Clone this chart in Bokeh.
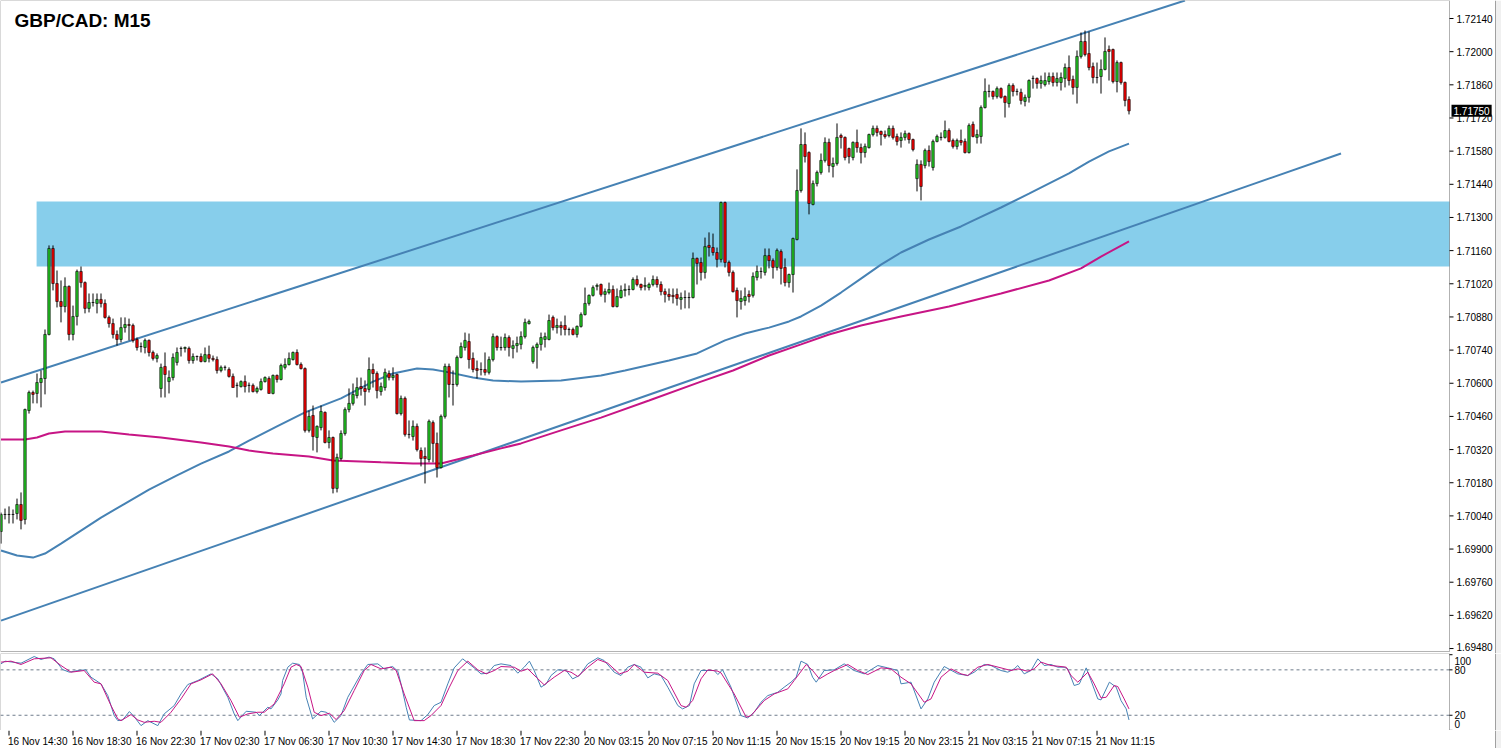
from bokeh.plotting import figure
from bokeh.layouts import column
from bokeh.models import (Range1d, Label, ColumnDataSource, BoxAnnotation, Span)
from bokeh.embed import file_html
from bokeh.resources import INLINE
from bokeh.core.properties import value

# ---------------- data (GBP/CAD M15, candle index 0 = 16 Nov 14:00) ----------------
open_ = [
1.69974,1.70046,1.70046,1.70046,1.70050,1.70088,1.70025,1.70485,1.70561,1.70557,
1.70603,1.70620,1.70806,1.71169,1.71021,1.70945,1.70924,1.71009,1.70806,1.70882,
1.71072,1.71025,1.70916,1.70941,1.70937,1.70954,1.70937,1.70878,1.70852,1.70806,
1.70785,1.70835,1.70848,1.70844,1.70785,1.70755,1.70751,1.70781,1.70730,1.70705,
1.70578,1.70671,1.70607,1.70624,1.70688,1.70747,1.70747,1.70747,1.70696,1.70713,
1.70713,1.70692,1.70721,1.70705,1.70700,1.70654,1.70667,1.70658,1.70629,1.70591,
1.70586,1.70607,1.70591,1.70591,1.70565,1.70574,1.70607,1.70620,1.70557,1.70633,
1.70616,1.70667,1.70679,1.70700,1.70730,1.70679,1.70662,1.70401,1.70464,1.70371,
1.70413,1.70477,1.70350,1.70371,1.70156,1.70282,1.70388,1.70489,1.70515,1.70548,
1.70586,1.70578,1.70574,1.70658,1.70641,1.70565,1.70582,1.70641,1.70624,1.70637,
1.70472,1.70536,1.70384,1.70375,1.70418,1.70316,1.70291,1.70278,1.70434,1.70346,
1.70244,1.70460,1.70671,1.70595,1.70595,1.70709,1.70751,1.70776,1.70705,1.70662,
1.70658,1.70658,1.70646,1.70700,1.70797,1.70751,1.70751,1.70793,1.70747,1.70759,
1.70764,1.70797,1.70852,1.70692,1.70751,1.70764,1.70785,1.70785,1.70878,1.70835,
1.70844,1.70844,1.70827,1.70827,1.70806,1.70840,1.70890,1.70937,1.70971,1.71009,
1.71017,1.70975,1.70983,1.70996,1.70924,1.70962,1.70992,1.70996,1.70996,1.71038,
1.71017,1.71009,1.71004,1.71017,1.71038,1.71017,1.70987,1.70975,1.70971,1.70975,
1.70954,1.70962,1.70962,1.70962,1.71127,1.71110,1.71068,1.71182,1.71173,1.71152,
1.71123,1.71363,1.71110,1.71068,1.70992,1.70945,1.70949,1.70975,1.70971,1.71047,
1.71072,1.71068,1.71139,1.71118,1.71089,1.71156,1.71089,1.71025,1.71059,1.71207,
1.71414,1.71608,1.71574,1.71355,1.71443,1.71490,1.71541,1.71617,1.71515,1.71528,
1.71646,1.71638,1.71591,1.71553,1.71617,1.71595,1.71574,1.71595,1.71650,1.71676,
1.71663,1.71650,1.71646,1.71676,1.71642,1.71625,1.71638,1.71654,1.71629,1.71464,
1.71524,1.71519,1.71583,1.71511,1.71621,1.71638,1.71638,1.71667,1.71625,1.71600,
1.71625,1.71621,1.71574,1.71693,1.71638,1.71642,1.71764,1.71832,1.71832,1.71811,
1.71844,1.71811,1.71781,1.71857,1.71832,1.71828,1.71790,1.71807,1.71887,1.71887,
1.71866,1.71861,1.71874,1.71895,1.71870,1.71870,1.71887,1.71933,1.71883,1.71849,
1.71980,1.72043,1.71992,1.71937,1.71891,1.71895,1.71925,1.72009,1.72009,1.71874,
1.71954,1.71870,1.71798]

high = [
1.70054,1.70071,1.70080,1.70067,1.70113,1.70139,1.70493,1.70569,1.70569,1.70641,
1.70654,1.70827,1.71182,1.71182,1.71076,1.71034,1.71047,1.71013,1.70928,1.71080,
1.71093,1.71030,1.70979,1.70979,1.70979,1.70979,1.70954,1.70886,1.70873,1.70823,
1.70878,1.70878,1.70873,1.70852,1.70793,1.70772,1.70789,1.70785,1.70738,1.70726,
1.70683,1.70730,1.70654,1.70726,1.70751,1.70755,1.70755,1.70755,1.70726,1.70717,
1.70726,1.70751,1.70759,1.70717,1.70713,1.70675,1.70675,1.70667,1.70641,1.70603,
1.70612,1.70633,1.70603,1.70599,1.70586,1.70620,1.70629,1.70629,1.70637,1.70637,
1.70683,1.70705,1.70730,1.70734,1.70743,1.70688,1.70667,1.70485,1.70506,1.70422,
1.70506,1.70481,1.70401,1.70375,1.70303,1.70401,1.70498,1.70578,1.70599,1.70624,
1.70624,1.70612,1.70709,1.70683,1.70650,1.70603,1.70662,1.70654,1.70667,1.70641,
1.70548,1.70544,1.70443,1.70443,1.70430,1.70329,1.70329,1.70447,1.70443,1.70392,
1.70468,1.70683,1.70683,1.70654,1.70717,1.70772,1.70814,1.70810,1.70730,1.70696,
1.70688,1.70730,1.70713,1.70810,1.70802,1.70797,1.70810,1.70802,1.70781,1.70797,
1.70819,1.70873,1.70869,1.70759,1.70772,1.70814,1.70814,1.70890,1.70886,1.70873,
1.70861,1.70886,1.70835,1.70835,1.70844,1.70899,1.71004,1.70975,1.71013,1.71021,
1.71021,1.71000,1.71025,1.71013,1.71000,1.71013,1.71021,1.71013,1.71047,1.71055,
1.71021,1.71047,1.71025,1.71055,1.71051,1.71030,1.71000,1.71000,1.71000,1.71000,
1.70983,1.70992,1.70983,1.71152,1.71131,1.71131,1.71215,1.71237,1.71232,1.71173,
1.71367,1.71367,1.71118,1.71076,1.71004,1.70992,1.71004,1.70992,1.71068,1.71097,
1.71089,1.71169,1.71169,1.71127,1.71169,1.71165,1.71127,1.71063,1.71215,1.71503,
1.71676,1.71659,1.71579,1.71456,1.71498,1.71570,1.71638,1.71633,1.71553,1.71697,
1.71654,1.71642,1.71595,1.71621,1.71671,1.71612,1.71612,1.71654,1.71688,1.71688,
1.71667,1.71667,1.71688,1.71688,1.71654,1.71659,1.71667,1.71659,1.71633,1.71545,
1.71541,1.71591,1.71604,1.71629,1.71650,1.71659,1.71709,1.71676,1.71633,1.71633,
1.71671,1.71633,1.71697,1.71705,1.71671,1.71773,1.71887,1.71861,1.71836,1.71853,
1.71849,1.71815,1.71866,1.71866,1.71844,1.71844,1.71819,1.71883,1.71899,1.71891,
1.71899,1.71912,1.71912,1.71912,1.71912,1.71912,1.71950,1.71984,1.71899,1.72005,
1.72081,1.72089,1.72085,1.71954,1.71954,1.71967,1.72060,1.72026,1.72013,1.71963,
1.71958,1.71874,1.71811]

low = [
1.69923,1.70025,1.70008,1.70008,1.70025,1.69983,1.70004,1.70472,1.70515,1.70515,
1.70498,1.70553,1.70802,1.70992,1.70920,1.70857,1.70899,1.70781,1.70781,1.70844,
1.71004,1.70895,1.70899,1.70924,1.70895,1.70920,1.70873,1.70835,1.70789,1.70759,
1.70772,1.70814,1.70781,1.70772,1.70738,1.70730,1.70726,1.70713,1.70696,1.70688,
1.70540,1.70540,1.70557,1.70612,1.70675,1.70713,1.70730,1.70683,1.70683,1.70696,
1.70688,1.70688,1.70688,1.70692,1.70641,1.70646,1.70654,1.70624,1.70582,1.70540,
1.70582,1.70561,1.70561,1.70561,1.70557,1.70569,1.70603,1.70557,1.70553,1.70603,
1.70612,1.70658,1.70675,1.70696,1.70675,1.70658,1.70392,1.70392,1.70316,1.70308,
1.70401,1.70346,1.70325,1.70135,1.70139,1.70274,1.70379,1.70477,1.70506,1.70536,
1.70548,1.70506,1.70561,1.70582,1.70536,1.70548,1.70569,1.70612,1.70612,1.70468,
1.70464,1.70375,1.70367,1.70358,1.70312,1.70249,1.70177,1.70266,1.70266,1.70202,
1.70240,1.70451,1.70540,1.70506,1.70586,1.70705,1.70738,1.70662,1.70646,1.70620,
1.70633,1.70633,1.70637,1.70692,1.70738,1.70738,1.70738,1.70713,1.70705,1.70730,
1.70743,1.70789,1.70848,1.70683,1.70662,1.70738,1.70751,1.70781,1.70823,1.70810,
1.70802,1.70802,1.70802,1.70802,1.70793,1.70835,1.70886,1.70928,1.70966,1.70992,
1.70966,1.70941,1.70975,1.70920,1.70920,1.70958,1.70966,1.70971,1.70992,1.71009,
1.70992,1.70992,1.70992,1.71009,1.71004,1.70971,1.70941,1.70949,1.70937,1.70928,
1.70911,1.70916,1.70916,1.70958,1.71017,1.71034,1.71042,1.71135,1.71139,1.71089,
1.71110,1.71089,1.71051,1.70983,1.70878,1.70911,1.70928,1.70941,1.70962,1.71034,
1.71042,1.71055,1.71085,1.71042,1.71076,1.71017,1.71009,1.71004,1.70983,1.71203,
1.71405,1.71532,1.71313,1.71351,1.71431,1.71481,1.71532,1.71490,1.71469,1.71519,
1.71591,1.71541,1.71528,1.71541,1.71574,1.71528,1.71553,1.71591,1.71642,1.71642,
1.71604,1.71633,1.71638,1.71629,1.71604,1.71595,1.71625,1.71612,1.71579,1.71410,
1.71372,1.71507,1.71515,1.71498,1.71617,1.71625,1.71633,1.71617,1.71591,1.71587,
1.71604,1.71570,1.71570,1.71638,1.71612,1.71612,1.71760,1.71807,1.71798,1.71802,
1.71802,1.71722,1.71764,1.71811,1.71815,1.71777,1.71769,1.71785,1.71844,1.71844,
1.71844,1.71853,1.71861,1.71853,1.71853,1.71836,1.71849,1.71857,1.71819,1.71781,
1.71971,1.71980,1.71921,1.71866,1.71866,1.71823,1.71921,1.71878,1.71866,1.71828,
1.71861,1.71769,1.71735]

close = [
1.70046,1.70046,1.70046,1.70046,1.70088,1.70021,1.70489,1.70561,1.70553,1.70603,
1.70620,1.70806,1.71169,1.71021,1.70945,1.70924,1.71009,1.70806,1.70882,1.71072,
1.71025,1.70916,1.70941,1.70941,1.70954,1.70937,1.70878,1.70852,1.70806,1.70785,
1.70835,1.70848,1.70844,1.70781,1.70751,1.70755,1.70781,1.70730,1.70705,1.70717,
1.70667,1.70637,1.70624,1.70709,1.70730,1.70747,1.70751,1.70696,1.70713,1.70713,
1.70692,1.70721,1.70705,1.70700,1.70654,1.70667,1.70667,1.70629,1.70582,1.70591,
1.70607,1.70586,1.70591,1.70565,1.70578,1.70607,1.70624,1.70557,1.70633,1.70616,
1.70675,1.70679,1.70705,1.70730,1.70679,1.70662,1.70401,1.70460,1.70375,1.70418,
1.70481,1.70350,1.70371,1.70156,1.70287,1.70388,1.70489,1.70515,1.70553,1.70582,
1.70578,1.70565,1.70658,1.70641,1.70569,1.70586,1.70646,1.70624,1.70633,1.70472,
1.70536,1.70384,1.70384,1.70418,1.70320,1.70282,1.70282,1.70439,1.70346,1.70244,
1.70460,1.70671,1.70595,1.70595,1.70709,1.70755,1.70781,1.70700,1.70658,1.70654,
1.70658,1.70646,1.70700,1.70797,1.70751,1.70751,1.70793,1.70751,1.70759,1.70768,
1.70797,1.70857,1.70861,1.70751,1.70764,1.70793,1.70797,1.70865,1.70835,1.70844,
1.70835,1.70827,1.70827,1.70806,1.70840,1.70890,1.70937,1.70971,1.71004,1.71013,
1.70975,1.70987,1.70996,1.70924,1.70966,1.70992,1.70996,1.70996,1.71038,1.71017,
1.71004,1.71013,1.71017,1.71038,1.71017,1.70987,1.70975,1.70966,1.70966,1.70958,
1.70962,1.70962,1.70962,1.71127,1.71106,1.71068,1.71177,1.71173,1.71152,1.71123,
1.71363,1.71110,1.71068,1.70987,1.70949,1.70958,1.70966,1.70966,1.71051,1.71072,
1.71072,1.71139,1.71118,1.71089,1.71161,1.71085,1.71025,1.71059,1.71211,1.71414,
1.71608,1.71557,1.71359,1.71443,1.71490,1.71541,1.71617,1.71519,1.71528,1.71638,
1.71638,1.71553,1.71557,1.71617,1.71595,1.71574,1.71600,1.71650,1.71676,1.71659,
1.71650,1.71642,1.71676,1.71638,1.71621,1.71638,1.71654,1.71629,1.71587,1.71524,
1.71431,1.71583,1.71536,1.71621,1.71642,1.71638,1.71667,1.71621,1.71600,1.71625,
1.71617,1.71574,1.71688,1.71642,1.71650,1.71764,1.71832,1.71832,1.71811,1.71844,
1.71807,1.71785,1.71857,1.71832,1.71832,1.71794,1.71807,1.71878,1.71887,1.71866,
1.71878,1.71878,1.71895,1.71870,1.71887,1.71891,1.71933,1.71878,1.71849,1.71980,
1.72043,1.71988,1.71933,1.71891,1.71891,1.71925,1.72001,1.72001,1.71874,1.71954,
1.71870,1.71794,1.71750]

# moving averages: (candle index, price)
ma_blue_at = [0,4,8,11,15,20,25,31,37,44,50,57,62,69,76,85,93,98,104,108,112,118,123,130,
              140,150,156,167,174,181,186,192,197,200,205,210,215,220,225,232,240,243,250,
              257,267,272,277,282]
ma_blue = [1.69894,1.69873,1.69864,1.69881,1.69923,1.69978,1.70033,1.70092,1.70151,1.70211,
           1.70261,1.70312,1.70358,1.70418,1.70477,1.70536,1.70607,1.70641,1.70662,1.70658,
           1.70646,1.70624,1.70612,1.70607,1.70612,1.70633,1.70654,1.70696,1.70726,1.70781,
           1.70810,1.70835,1.70861,1.70882,1.70928,1.70983,1.71042,1.71101,1.71152,1.71207,
           1.71262,1.71287,1.71342,1.71401,1.71486,1.71536,1.71579,1.71612]
ma_mag_at = [0,6,9,12,16,25,32,40,50,57,62,68,77,83,95,103,110,113,118,125,130,140,150,162,
             175,183,192,200,207,215,225,237,250,262,270,275,282]
ma_mag = [1.70363,1.70363,1.70371,1.70388,1.70396,1.70396,1.70384,1.70371,1.70350,1.70333,
          1.70316,1.70303,1.70291,1.70274,1.70266,1.70261,1.70261,1.70274,1.70295,1.70325,
          1.70346,1.70401,1.70455,1.70527,1.70607,1.70654,1.70717,1.70764,1.70806,1.70844,
          1.70882,1.70924,1.70979,1.71034,1.71085,1.71135,1.71199]

# trend channel anchors (candle index, price)
upper_at = [0, 296]
upper_px = [1.70603, 1.72216]
lower_at = [0, 335]
lower_px = [1.69598, 1.71570]

# supply/demand zone
zone_start = 8.9
zone_low = 1.71093
zone_high = 1.71367

# stochastic oscillator readings (candle index, value)
k_at = [0,1,5,8.3,10,12,13.3,15.4,17.1,19.2,21.2,22.5,25,26.7,28.3,29.2,30.4,32.1,33.3,35,36.7,
        39.2,40.8,43.3,45,46.7,49.2,52.5,54.2,56.7,58.3,59.2,61.3,63.8,64.6,66.7,67.5,69.2,70,70.4,
        71.7,72.9,74.6,75.4,76.3,77.9,80,81.3,82.1,83.3,85,86.7,90,91.7,94.2,95.8,97.9,99.2,100,
        101.3,102.1,105,106.7,108.3,110,111.7,113.3,115.4,118.3,120,121.7,123.3,125,127.5,129.2,
        130.8,132.1,133.3,135,136.3,137.5,139.2,141.3,142.9,144.6,146.7,149.2,150.8,153.3,155,
        156.7,158.3,160,161.7,163.3,165,166.7,169.2,170.4,172.1,173.3,175,178.3,179.2,180.4,182.5,
        185,186.7,188.3,190,191.7,194.2,195.8,197.5,198.8,200,201.7,202.9,203.8,205.8,208.3,210.8,
        213.3,215.8,219.2,221.7,224.2,225,227.5,230,231.7,233.3,235.8,239.2,241.7,243.3,245.8,247.5,
        250,251.7,253.3,254.2,255.8,257.5,259.2,260.8,262.5,264.2,265.8,266.7,268.3,269.6,271.3,
        272.5,274.2,275,277.1,278.8,280,281.3,282]
k_val = [87.9,91.5,88.8,97.6,93.7,96.8,94.6,80.4,76.9,79.1,80.0,70.3,61.5,46.0,19.6,12.9,13.8,24.9,
         18.2,6.3,12.9,6.3,21.8,32.8,48.2,60.6,65.9,74.7,68.1,43.8,21.8,12.9,25.3,24.0,19.6,30.6,
         28.4,40.3,48.2,65.9,83.5,88.8,87.1,76.9,43.8,15.2,25.3,24.0,20.9,10.7,19.6,43.8,74.7,87.1,
         87.9,81.3,84.4,78.2,61.5,30.6,13.8,12.9,20.9,32.8,37.2,61.5,82.6,94.6,82.6,74.7,75.6,85.7,
         87.9,85.7,75.6,83.5,91.5,79.1,57.1,61.5,72.5,80.0,79.1,68.1,72.5,87.9,95.9,92.3,76.9,72.5,
         83.5,87.1,83.5,69.4,74.7,72.5,57.1,32.8,28.4,32.8,61.5,79.1,79.1,73.8,80.0,57.1,19.6,16.5,
         24.0,37.2,46.0,50.4,57.1,63.7,70.3,91.5,87.1,70.3,63.7,79.1,80.0,87.9,79.1,74.7,85.7,82.6,
         79.1,61.5,63.7,28.4,41.6,63.7,84.4,74.7,72.5,76.9,87.1,85.7,79.1,76.9,81.3,85.7,74.7,79.1,
         94.6,85.7,87.1,83.5,83.5,81.3,59.3,61.5,82.6,65.9,41.6,40.3,63.7,57.1,39.4,28.4,13.8]
d_at = [0,2.5,5,8.3,12.5,15,17.5,20.8,23.3,25,27.5,29.2,30,32.5,34.2,35.8,38.3,40,42.5,45,47.5,
        50,52.9,55,57.5,59.6,61.7,64.2,65.8,68.3,70.8,72.5,73.8,75,76.7,78.3,80,82.1,83.8,85.8,88.3,
        90.8,92.5,95,97.5,98.8,100.8,103.3,105.8,107.5,110,112.1,114.2,116.7,119.2,121.3,123.3,125,
        128.3,130,131.7,133.8,135.8,138.3,140.8,142.5,144.2,146.7,149.2,151.7,154.6,156.7,158.3,
        160.8,164.2,166.7,170,171.3,172.9,175,176.7,179.2,180,183.3,186.3,187.5,190.8,193.3,196.7,
        198.3,201.3,202.9,204.6,206.7,208.3,211.7,214.2,216.7,220,222.5,225,227.5,230.8,232.5,235,
        237.5,240,241.7,244.2,246.7,250,252.5,254.2,256.7,258.3,260,262.5,265,266.3,267.5,269.2,
        271.7,273.3,275,276.3,278.3,279.2,280.8,282]
d_val = [90.2,91.5,87.1,94.6,95.9,85.7,76.9,79.1,63.7,61.5,32.8,15.2,12.9,20.9,13.8,10.7,12.1,10.7,
         24.0,41.6,61.5,66.8,74.7,61.5,39.4,17.4,21.8,24.0,24.0,35.0,61.5,83.5,87.1,84.4,57.1,24.0,
         19.6,22.7,14.3,26.2,52.7,79.1,87.1,81.3,83.5,79.1,48.2,12.9,12.9,19.6,32.8,57.1,79.1,91.5,
         80.0,74.7,79.1,84.4,83.5,78.2,81.3,70.3,60.2,70.3,79.1,76.9,71.2,83.5,93.7,88.8,74.7,78.2,
         87.1,76.9,75.6,65.9,32.8,30.6,39.4,68.1,80.0,78.2,76.0,48.2,17.4,19.6,39.4,48.2,54.9,65.9,
         87.1,79.1,68.1,74.7,79.1,87.1,79.1,73.8,82.6,81.3,70.3,61.5,37.2,41.6,70.3,81.3,74.7,72.5,
         83.5,87.1,82.6,79.1,81.3,78.2,81.3,90.2,85.7,84.4,83.5,72.5,63.7,76.9,61.5,42.9,43.8,59.3,
         57.9,41.6,28.4]
stoch_levels = [20, 80]
stoch_ticks = [0, 20, 80, 100]
stoch_tick_labels = ["0", "20", "80", "100"]

price_ticks = [1.69480,1.69620,1.69760,1.69900,1.70040,1.70180,1.70320,1.70460,1.70600,1.70740,
               1.70880,1.71020,1.71160,1.71300,1.71440,1.71580,1.71720,1.71860,1.72000,1.72140]
time_tick_at = [2,18,34,50,66,82,98,114,130,146,162,178,194,210,226,242,258,274]
time_labels = ["16 Nov 14:30","16 Nov 18:30","16 Nov 22:30","17 Nov 02:30","17 Nov 06:30",
               "17 Nov 10:30","17 Nov 14:30","17 Nov 18:30","17 Nov 22:30","20 Nov 03:15",
               "20 Nov 07:15","20 Nov 11:15","20 Nov 15:15","20 Nov 19:15","20 Nov 23:15",
               "21 Nov 03:15","21 Nov 07:15","21 Nov 11:15"]
title_text = "GBP/CAD: M15"

# ---------------- layout constants ----------------
W = 1501            # whole canvas width
PW = 1449           # width of the chart area left of the price scale
EDGE = 1495         # window edge strip
FONT = "Liberation Sans"
STEEL = "#4682B4"
MAG = "#C71585"
X0 = -0.125
XR = Range1d(X0, X0 + W / 4.0)       # 4 px per candle
AX = X0 + PW / 4.0                   # price-scale line (in candle units)
EX = X0 + EDGE / 4.0
TICK = 1.0                           # 4 px tick length
MAIN_H = 653
MAIN_BOTTOM = 1.694675               # price at the main panel's lower border


def base_fig(h, yr, top=0):
    f = figure(frame_width=W, frame_height=h, x_range=XR, y_range=yr,
               output_backend="svg", toolbar_location=None,
               x_axis_location=None, y_axis_location=None,
               min_border_left=0, min_border_right=0, min_border_top=top,
               min_border_bottom=0, background_fill_color="white",
               border_fill_color="white", outline_line_color=None)
    f.grid.visible = False
    f.add_layout(BoxAnnotation(left=EX, fill_color="#f0f0f0", fill_alpha=1.0, line_color=None,
                               level="underlay"))
    f.add_layout(Span(location=EX, dimension="height", line_color="#a0a0a0", line_width=1))
    return f


# ---------------- main price panel ----------------
main = base_fig(MAIN_H, Range1d(1.72216 - MAIN_H * 0.00004222, 1.72216))

main.add_layout(BoxAnnotation(left=zone_start, right=AX, bottom=zone_low, top=zone_high,
                              fill_color="#87CEEB", fill_alpha=1.0, line_color=None,
                              level="underlay"))

main.line(upper_at, upper_px, line_color=STEEL, line_width=2)
main.line(lower_at, lower_px, line_color=STEEL, line_width=2)
main.line(ma_blue_at, ma_blue, line_color=STEEL, line_width=2)
main.line(ma_mag_at, ma_mag, line_color=MAG, line_width=2)

idx = list(range(len(close)))
src = ColumnDataSource(dict(
    x=idx, o=open_, h=high, l=low, c=close,
    top=[max(a, b) for a, b in zip(open_, close)],
    bot=[min(a, b) for a, b in zip(open_, close)],
    col=["#22c322" if c >= o else "#f00000" for o, c in zip(open_, close)],
))
main.segment(x0="x", y0="l", x1="x", y1="h", source=src, line_color="black", line_width=1)
main.vbar(x="x", width=0.62, top="top", bottom="bot", source=src,
          fill_color="col", line_color="black", line_width=0.6)

# frame border and the price scale
main.add_layout(BoxAnnotation(right=AX, bottom=MAIN_BOTTOM, fill_alpha=0.0,
                              line_color="black", line_width=1))
scale_src = ColumnDataSource(dict(
    x=[AX] * len(price_ticks), x1=[AX + TICK] * len(price_ticks), y=price_ticks,
    txt=["%.5f" % t for t in price_ticks],
    yoff=[-2 if i == 0 else 0 for i in range(len(price_ticks))],
))
main.segment(x0="x", y0="y", x1="x1", y1="y", source=scale_src,
             line_color="black", line_width=1)
main.text(x="x", y="y", text="txt", source=scale_src, x_offset=7, y_offset="yoff",
          text_align="left", text_baseline="middle",
          text_font=value(FONT), text_font_size="10px", text_color="black")

main.add_layout(Label(x=14, y=MAIN_H - 9, x_units="screen", y_units="screen",
                      text=title_text, text_font=FONT, text_font_style="bold",
                      text_font_size="19px", text_color="black", text_baseline="top"))
main.add_layout(Label(x=AX, y=close[-1], x_offset=2, text="%.5f" % close[-1],
                      text_font=FONT, text_font_size="10px", text_color="white",
                      background_fill_color="black", text_baseline="middle",
                      text_align="left", padding=2))

# ---------------- stochastic panel ----------------
st = base_fig(77, Range1d(-0.13, 101.6))
for lv in stoch_levels:
    st.line([X0, AX], [lv, lv], line_color="#6f7c8c", line_dash="3 3", line_width=1)
st.line(k_at, k_val, line_color=STEEL, line_width=1)
st.line(d_at, d_val, line_color=MAG, line_width=1)
st.add_layout(BoxAnnotation(right=AX, fill_alpha=0.0, line_color="black", line_width=1))
st.segment(x0=[AX] * 4, y0=stoch_ticks, x1=[AX + 0.75] * 4, y1=stoch_ticks,
           line_color="black", line_width=1)
for t, lab in zip(stoch_ticks, stoch_tick_labels):
    if t == 100:
        base, off = "top", 2
    elif t == 0:
        base, off = "bottom", -2
    else:
        base, off = "middle", 0
    st.text(x=[AX], y=[t], text=[lab], x_offset=5, y_offset=off, text_align="left",
            text_baseline=base, text_font=value(FONT), text_font_size="10px",
            text_color="black")

# ---------------- time labels strip ----------------
lf = base_fig(18, Range1d(0, 1))
lf.segment(x0=time_tick_at, y0=[1.0] * len(time_tick_at), x1=time_tick_at,
           y1=[1.0 - 5.0 / 18] * len(time_tick_at), line_color="black", line_width=1)
lf.text(x=time_tick_at, y=[1.0] * len(time_tick_at), text=time_labels,
        text_align="left", text_baseline="top", x_offset=-1, y_offset=5,
        text_font=value(FONT), text_font_size="10px", text_color="black")

layout = column(main, st, lf, spacing=0)
open("out.html", "w").write(file_html(layout, INLINE))
